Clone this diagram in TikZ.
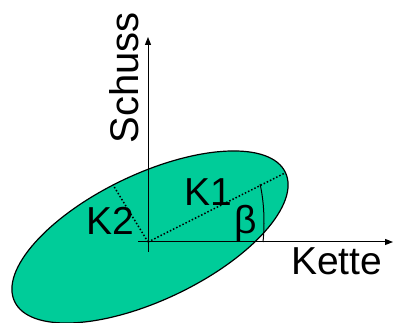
\documentclass[tikz,border=0pt]{standalone}
\usepackage{fontspec}
\setmainfont{Liberation Sans}
\usetikzlibrary{arrows.meta}
\definecolor{ellgreen}{RGB}{0,204,153}
\tikzset{
  axis/.style={line width=1pt, -{Triangle[length=8pt,width=6pt]}},
  dotline/.style={line width=1.5pt, dotted},
  lbl/.style={inner sep=0pt, font=\fontsize{39}{39}\selectfont},
}
\begin{document}
\begin{tikzpicture}[x=1pt,y=1pt]
\useasboundingbox (0,0) rectangle (393,323);
% ellipse
\draw[fill=ellgreen, line width=1.2pt, rotate around={25.5:(150,86)}] (150,86) ellipse [x radius=150, y radius=63];
% coordinates
\coordinate (O) at (148,81);
\coordinate (ytop) at (148,286);
\coordinate (ybot) at (148,71);
\coordinate (xl) at (138,81);
\coordinate (xr) at (393,81);
\coordinate (k1) at (285,150);
\coordinate (k2) at (113,138);
\coordinate (b0) at (263,81);
\coordinate (b1) at (260,139);
% axes
\draw[axis] (ybot) -- (ytop);
\draw[axis] (xl) -- (xr);
% dotted semi-axes
\draw[dotline] (O) -- (k1);
\draw[dotline] (O) -- (k2);
% beta arc
\draw[line width=1pt] (b0) .. controls (265,100) and (264,122) .. (b1);
% labels
\node[lbl, rotate=90, font=\fontsize{40}{40}\selectfont] (schuss) at (124,245) {Schuss};
\node[lbl, anchor=base west] (kette) at (291,48) {Kette};
\node[lbl] (K1) at (208,131) {K1};
\node[lbl] (K2) at (110,102) {K2};
\node[lbl] (beta) at (246,100) {β};
\end{tikzpicture}
\end{document}
